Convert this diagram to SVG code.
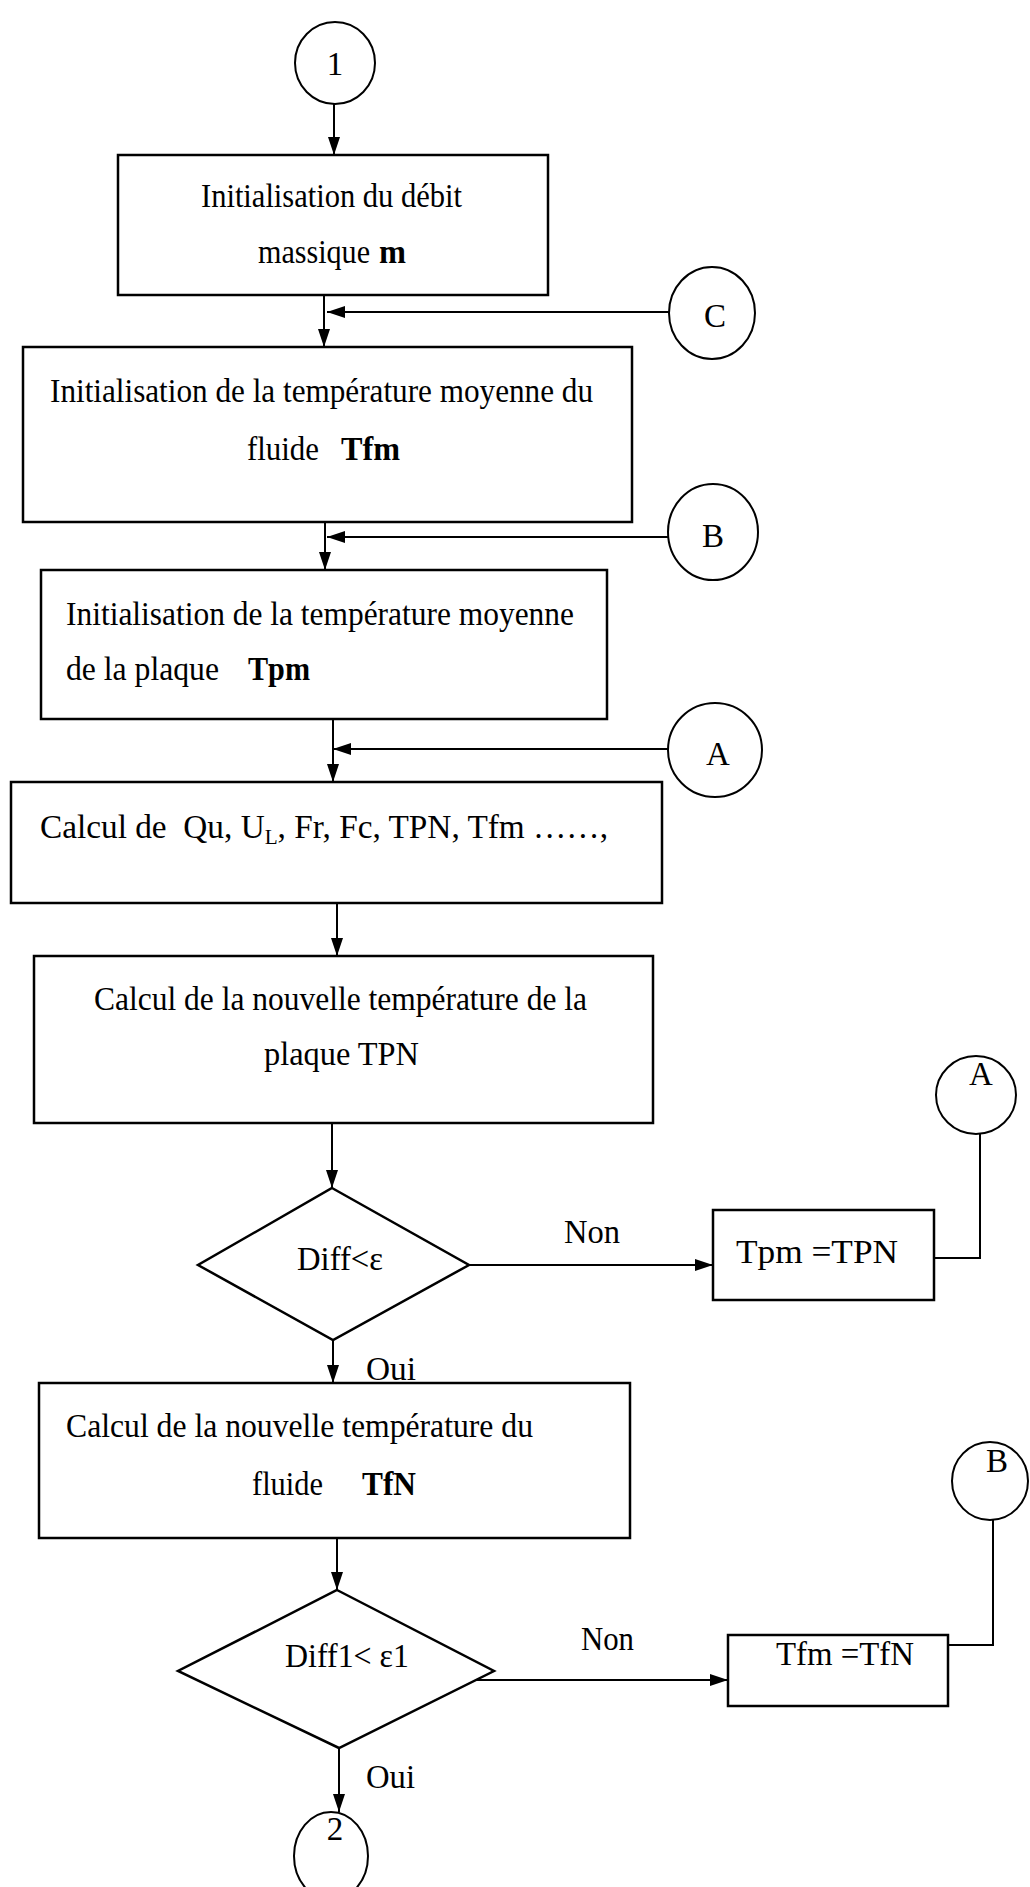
<svg xmlns="http://www.w3.org/2000/svg" width="1030" height="1887" viewBox="0 0 1030 1887">
  <style>
    .box { fill: #fff; stroke: #000; stroke-width: 2.5; }
    .con { fill: #fff; stroke: #000; stroke-width: 2; }
    .edge { fill: none; stroke: #000; stroke-width: 2; }
    text { font-family: "Liberation Serif", "Times New Roman", serif; font-size: 33px; fill: #000; white-space: pre; }
    .mid { text-anchor: middle; }
    .b { font-weight: bold; }
    .sub { font-size: 21px; }
  </style>
  <defs>
    <marker id="arrow" viewBox="0 0 18 12" refX="18" refY="6" markerWidth="18" markerHeight="12" markerUnits="userSpaceOnUse" orient="auto">
      <path d="M0,0 L18,6 L0,12 z" fill="#000"/>
    </marker>
  </defs>
  <rect width="1030" height="1887" fill="#fff"/>

  <!-- connectors -->
  <g id="connectors">
    <path class="edge" d="M334,104 V155" marker-end="url(#arrow)"/>
    <path class="edge" d="M324,295 V347" marker-end="url(#arrow)"/>
    <path class="edge" d="M669,312 H327" marker-end="url(#arrow)"/>
    <path class="edge" d="M325,522 V570" marker-end="url(#arrow)"/>
    <path class="edge" d="M668,537 H327" marker-end="url(#arrow)"/>
    <path class="edge" d="M333,719 V782" marker-end="url(#arrow)"/>
    <path class="edge" d="M668,749 H333" marker-end="url(#arrow)"/>
    <path class="edge" d="M337,903 V956" marker-end="url(#arrow)"/>
    <path class="edge" d="M332,1123 V1188" marker-end="url(#arrow)"/>
    <path class="edge" d="M469,1265 H713" marker-end="url(#arrow)"/>
    <path class="edge" d="M934,1258 H980 V1134"/>
    <path class="edge" d="M333,1340 V1383" marker-end="url(#arrow)"/>
    <path class="edge" d="M337,1538 V1590" marker-end="url(#arrow)"/>
    <path class="edge" d="M465,1680 H728" marker-end="url(#arrow)"/>
    <path class="edge" d="M948,1645 H993 V1520"/>
    <path class="edge" d="M339,1748 V1812" marker-end="url(#arrow)"/>
    <text x="564" y="1243" textLength="56" lengthAdjust="spacingAndGlyphs">Non</text>
    <text x="366" y="1380" textLength="50" lengthAdjust="spacingAndGlyphs">Oui</text>
    <text x="581" y="1650" textLength="53" lengthAdjust="spacingAndGlyphs">Non</text>
    <text x="366" y="1788" textLength="49" lengthAdjust="spacingAndGlyphs">Oui</text>
  </g>

  <!-- start connector 1 -->
  <g id="start1">
    <ellipse class="con" cx="335" cy="63" rx="40" ry="41"/>
    <text class="mid" x="335" y="75">1</text>
  </g>

  <g id="init-debit">
    <rect class="box" x="118" y="155" width="430" height="140"/>
    <text x="201" y="207" textLength="261" lengthAdjust="spacingAndGlyphs">Initialisation du débit</text>
    <text x="258" y="263" textLength="112" lengthAdjust="spacingAndGlyphs">massique</text>
    <text class="b" x="379" y="263" textLength="27" lengthAdjust="spacingAndGlyphs">m</text>
  </g>

  <g id="conC">
    <ellipse class="con" cx="712" cy="313" rx="43" ry="46"/>
    <text class="mid" x="715" y="327">C</text>
  </g>

  <g id="init-tfm">
    <rect class="box" x="23" y="347" width="609" height="175"/>
    <text x="50" y="402" textLength="543" lengthAdjust="spacingAndGlyphs">Initialisation de la température moyenne du</text>
    <text x="247" y="460" textLength="72" lengthAdjust="spacingAndGlyphs">fluide</text>
    <text class="b" x="341" y="460" textLength="59" lengthAdjust="spacingAndGlyphs">Tfm</text>
  </g>

  <g id="conB">
    <ellipse class="con" cx="713" cy="532" rx="45" ry="48"/>
    <text class="mid" x="713" y="547">B</text>
  </g>

  <g id="init-tpm">
    <rect class="box" x="41" y="570" width="566" height="149"/>
    <text x="66" y="625" textLength="508" lengthAdjust="spacingAndGlyphs">Initialisation de la température moyenne</text>
    <text x="66" y="680" textLength="153" lengthAdjust="spacingAndGlyphs">de la plaque</text>
    <text class="b" x="248" y="680" textLength="62" lengthAdjust="spacingAndGlyphs">Tpm</text>
  </g>

  <g id="conA">
    <ellipse class="con" cx="715" cy="750" rx="47" ry="47"/>
    <text class="mid" x="718" y="765">A</text>
  </g>

  <g id="calcul">
    <rect class="box" x="11" y="782" width="651" height="121"/>
    <text x="40" y="838" textLength="568" lengthAdjust="spacingAndGlyphs">Calcul de  Qu, U<tspan class="sub" dy="6">L</tspan><tspan dy="-6">, Fr, Fc, TPN, Tfm ……,</tspan></text>
  </g>

  <g id="calcul-tpn">
    <rect class="box" x="34" y="956" width="619" height="167"/>
    <text x="94" y="1010" textLength="493" lengthAdjust="spacingAndGlyphs">Calcul de la nouvelle température de la</text>
    <text x="264" y="1065" textLength="155" lengthAdjust="spacingAndGlyphs">plaque TPN</text>
  </g>

  <g id="test-diff">
    <polygon class="box" points="332,1188 469,1265 333,1340 198,1265"/>
    <text x="297" y="1270" textLength="86" lengthAdjust="spacingAndGlyphs">Diff&lt;ε</text>
  </g>

  <g id="set-tpm">
    <rect class="box" x="713" y="1210" width="221" height="90"/>
    <text x="736" y="1263" textLength="162" lengthAdjust="spacingAndGlyphs">Tpm =TPN</text>
  </g>

  <g id="conA2">
    <ellipse class="con" cx="976" cy="1095" rx="40" ry="39"/>
    <text class="mid" x="981" y="1085">A</text>
  </g>

  <g id="calcul-tfn">
    <rect class="box" x="39" y="1383" width="591" height="155"/>
    <text x="66" y="1437" textLength="467" lengthAdjust="spacingAndGlyphs">Calcul de la nouvelle température du</text>
    <text x="252" y="1495" textLength="71" lengthAdjust="spacingAndGlyphs">fluide</text>
    <text class="b" x="362" y="1495" textLength="54" lengthAdjust="spacingAndGlyphs">TfN</text>
  </g>

  <g id="test-diff1">
    <polygon class="box" points="337,1590 494,1671 339,1748 178,1671"/>
    <text x="285" y="1667" textLength="124" lengthAdjust="spacingAndGlyphs">Diff1&lt; ε1</text>
  </g>

  <g id="set-tfm">
    <rect class="box" x="728" y="1635" width="220" height="71"/>
    <text x="776" y="1665" textLength="138" lengthAdjust="spacingAndGlyphs">Tfm =TfN</text>
  </g>

  <g id="conB2">
    <ellipse class="con" cx="990" cy="1481" rx="38" ry="39"/>
    <text class="mid" x="997" y="1472">B</text>
  </g>

  <g id="end2">
    <ellipse class="con" cx="331" cy="1856" rx="37" ry="44"/>
    <text class="mid" x="335" y="1840">2</text>
  </g>
</svg>
